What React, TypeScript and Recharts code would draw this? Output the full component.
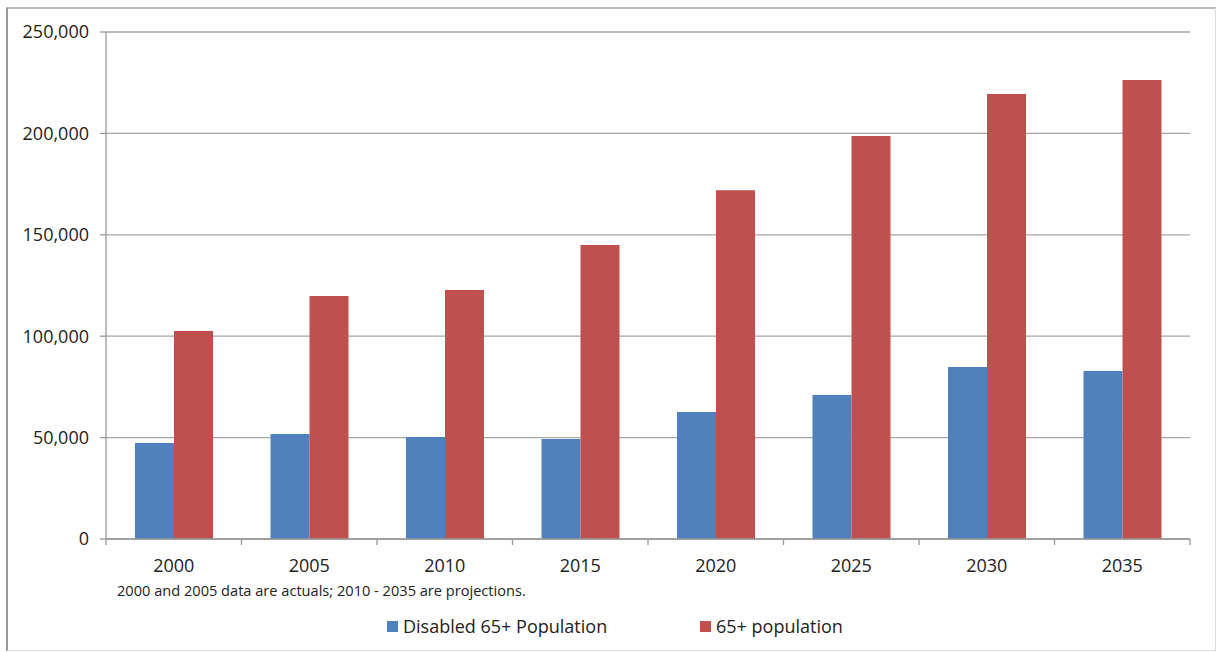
import React from "react";
import { BarChart, Bar, XAxis, YAxis, CartesianGrid, Legend, Label } from "recharts";

const years = ["2000", "2005", "2010", "2015", "2020", "2025", "2030", "2035"];
const disabled65 = [47300, 51800, 50300, 49300, 62600, 71000, 84800, 82800];
const pop65 = [102600, 119800, 122800, 145000, 172000, 198700, 219400, 226300];
const yTicks = [0, 50000, 100000, 150000, 200000, 250000];
const boundaryTicks = [0, 1, 2, 3, 4, 5, 6, 7, 8];
const footnote = "2000 and 2005 data are actuals; 2010 - 2035 are projections.";

const data = years.map((y, i) => ({ year: y, idx: i + 0.5, disabled: disabled65[i], pop: pop65[i] }));

const FONT = "'Open Sans', sans-serif";
const BLUE = "#4F81BD";
const RED = "#C0504D";

const LegendContent = () => (
  <div style={{ position: "relative", height: 24, width: 1216, fontFamily: FONT, fontSize: 18, color: "#222" }}>
    <div style={{ position: "absolute", left: 387, top: 6, width: 11, height: 11, background: BLUE }} />
    <div style={{ position: "absolute", left: 403, top: -1, lineHeight: "24px", whiteSpace: "nowrap" }}>Disabled 65+ Population</div>
    <div style={{ position: "absolute", left: 700, top: 6, width: 11, height: 11, background: RED }} />
    <div style={{ position: "absolute", left: 716, top: -1, lineHeight: "24px", whiteSpace: "nowrap" }}>65+ population</div>
  </div>
);

const Footnote = (props: any) => {
  const vb = props.viewBox || { x: 0, y: 0 };
  return (
    <text x={vb.x + 11} y={vb.y + 56} fontFamily={FONT} fontSize={14.6} fill="#222">
      {footnote}
    </text>
  );
};

const NoTick = () => <g />;

export default function App() {
  return (
    <div style={{ position: "absolute", left: 0, top: 0, width: 1216, height: 652, background: "#fff" }}>
      <div style={{ position: "absolute", left: 6, top: 7, width: 1207, height: 641, borderLeft: "2px solid #999", borderTop: "2px solid #bbb", borderRight: "1px solid #ddd", borderBottom: "1px solid #ddd" }} />
      <BarChart
        width={1216}
        height={652}
        data={data}
        margin={{ top: 32, right: 26, bottom: 13, left: 0 }}
        barCategoryGap="21.4%"
        barGap={0}
        style={{ position: "absolute", left: 0, top: 0 }}
      >
        <CartesianGrid vertical={false} stroke="#a6a6a6" strokeWidth={1.3} />
        <XAxis
          xAxisId="b"
          dataKey="year"
          height={75}
          axisLine={false}
          tickLine={false}
          tickMargin={13}
          tick={{ fontFamily: FONT, fontSize: 18, fill: "#222" }}
        >
          <Label content={<Footnote />} />
        </XAxis>
        <XAxis
          xAxisId="a"
          dataKey="idx"
          type="number"
          domain={[0, 8]}
          ticks={boundaryTicks}
          height={1}
          tick={<NoTick />}
          tickLine={{ stroke: "#999", strokeWidth: 1.3 }}
          tickSize={6}
          stroke="#999"
          strokeWidth={1.3}
          allowDataOverflow
          interval={0}
        />
        <YAxis
          width={106}
          domain={[0, 250000]}
          ticks={yTicks}
          tickFormatter={(v: number) => v.toLocaleString("en-US")}
          tickSize={6}
          tickMargin={11}
          stroke="#999"
          strokeWidth={1.3}
          tick={{ fontFamily: FONT, fontSize: 18, fill: "#222" }}
          interval={0}
        />
        <Legend verticalAlign="bottom" content={<LegendContent />} />
        <Bar xAxisId="b" dataKey="disabled" name="Disabled 65+ Population" fill={BLUE} isAnimationActive={false} />
        <Bar xAxisId="b" dataKey="pop" name="65+ population" fill={RED} isAnimationActive={false} />
      </BarChart>
    </div>
  );
}
